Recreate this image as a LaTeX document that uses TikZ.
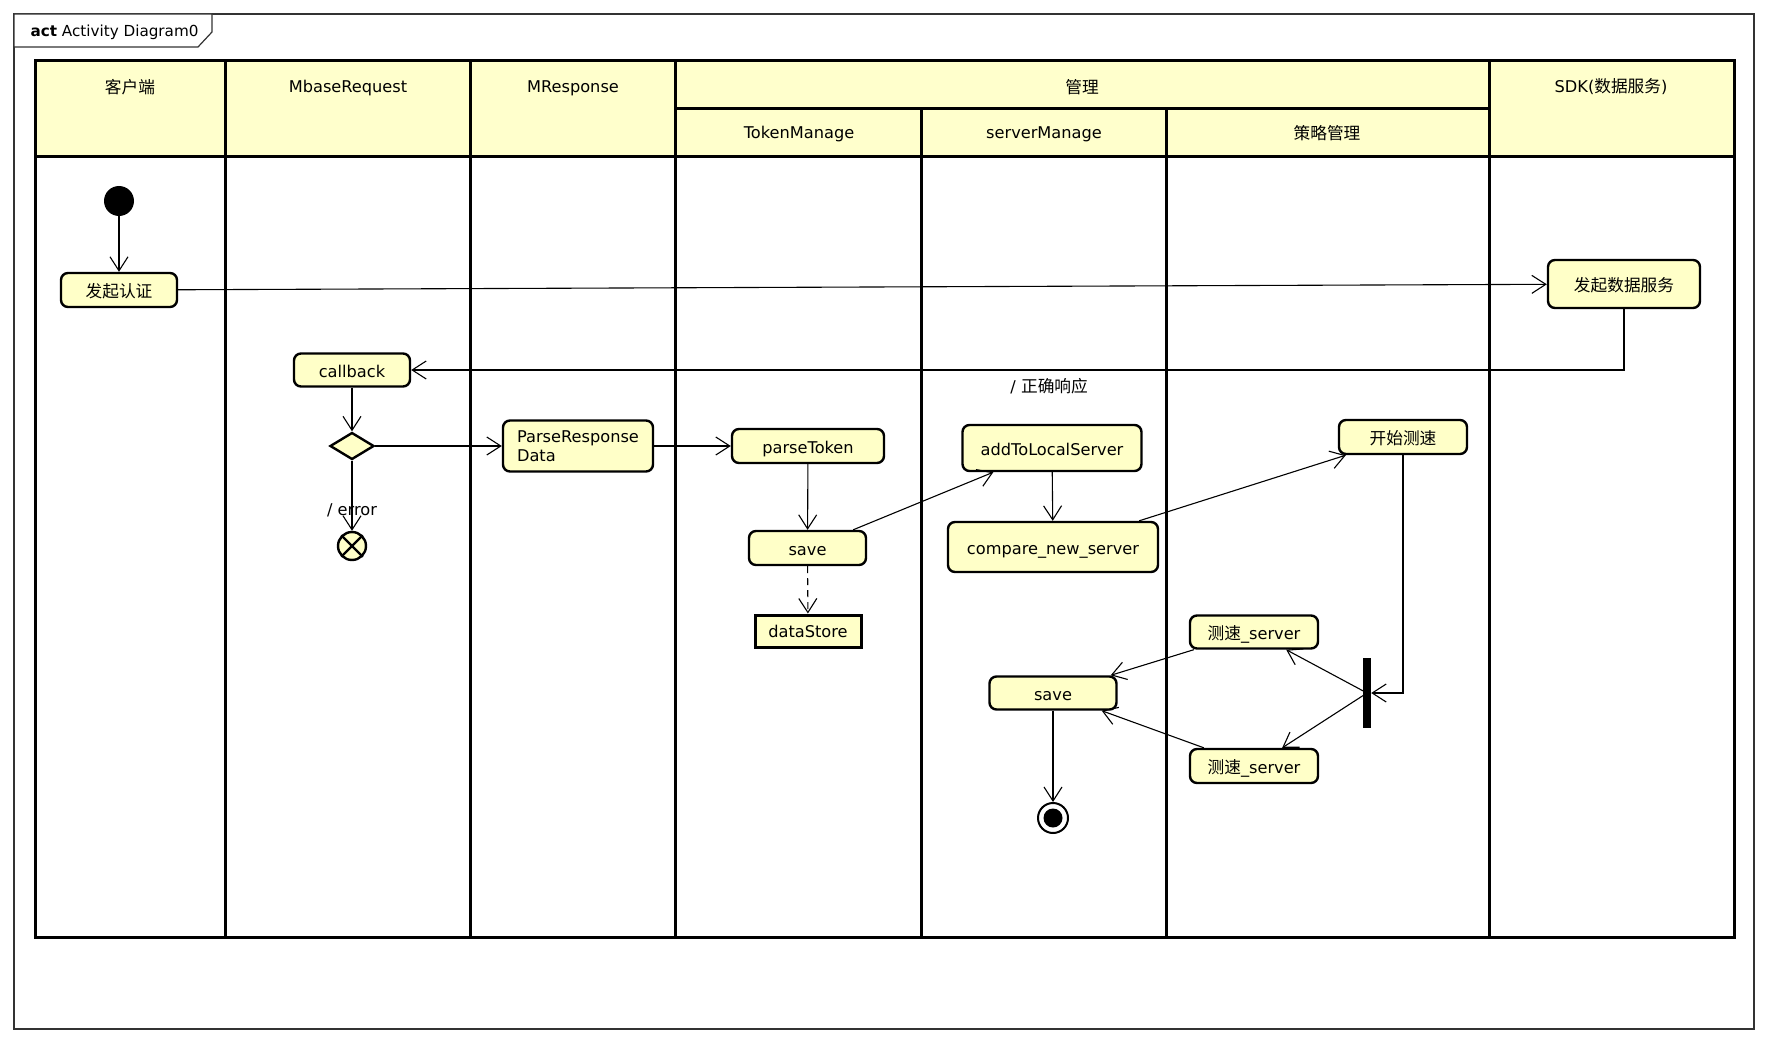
\documentclass[tikz,border=0pt]{standalone}
\usepackage{fontspec}
\setmainfont{DejaVu Sans}
\newfontfamily\cjk[Scale=1.03]{Noto Sans CJK SC}
\usetikzlibrary{arrows.meta,shapes.geometric}
\definecolor{laneyellow}{HTML}{FFFFCC}
\definecolor{actyellow}{HTML}{FFFFC8}
\tikzset{
	lane/.style={line width=3pt},
	lanetitle/.style={font=\fontsize{16.2}{19}\selectfont},
	actionbox/.style={draw,line width=2.4pt,rounded corners=7pt,fill=actyellow,inner sep=0pt,font=\fontsize{16.2}{19.5}\selectfont},
	action/.style={actionbox,text height=16pt,text depth=2pt},
	flow/.style={line width=1.1pt,-{Straight Barb[length=14pt,width=18pt]}}
}
\begin{document}
\begin{tikzpicture}[x=1pt,y=-1pt]
	\useasboundingbox (0,0) rectangle (1769,1043);
	% frame and its tab
	\draw[line width=1.2pt,black!80] (14,14) rectangle (1754,1029);
	\draw[line width=1.2pt,black!80,fill=white] (14,14) -- (212,14) -- (212,32) -- (198,47) -- (14,47) -- cycle;
	\node (title) at (27,32) [anchor=west,font=\fontsize{15.2}{18}\selectfont]{\textbf{act} Activity Diagram0};
	% swimlanes
	\fill[laneyellow] (35,61) rectangle (1734,157);
	\draw[lane] (35,61) rectangle (1734,937);
	\draw[lane] (35,157) -- (1734,157);
	\draw[lane] (675.7,109) -- (1489,109);
	\draw[lane] (225.6,61) -- (225.6,937);
	\draw[lane] (470,61) -- (470,937);
	\draw[lane] (675.7,61) -- (675.7,937);
	\draw[lane] (1489,61) -- (1489,937);
	\draw[lane] (921.6,109) -- (921.6,937);
	\draw[lane] (1166,109) -- (1166,937);
	\node (client) at (130,87) [lanetitle]{\cjk 客户端};
	\node (mbase) at (348,88) [lanetitle]{MbaseRequest};
	\node (mresp) at (573,88) [lanetitle]{MResponse};
	\node (manage) at (1082,87) [lanetitle]{\cjk 管理};
	\node (sdklane) at (1611,87) [lanetitle]{SDK({\cjk 数据服务})};
	\node (tokenlane) at (799,134) [lanetitle]{TokenManage};
	\node (serverlane) at (1044,134) [lanetitle]{serverManage};
	\node (policylane) at (1327,133) [lanetitle]{\cjk 策略管理};
	% activities
	\node (start) at (119,201) [circle,fill=black,minimum size=30pt,inner sep=0pt]{};
	\node (auth) at (119,290) [action,minimum width=116pt,minimum height=34pt]{\cjk 发起认证};
	\node (sdk) at (1624,284) [action,minimum width=152pt,minimum height=48pt]{\cjk 发起数据服务};
	\node (callback) at (352,370) [action,minimum width=116pt,minimum height=33pt]{callback};
	\node (dec) at (352,446) [diamond,draw,line width=2.4pt,fill=actyellow,minimum width=44pt,minimum height=27pt,inner sep=0pt]{};
	\node (errEnd) at (352,546) [circle,draw,line width=2.4pt,fill=actyellow,minimum size=28pt,inner sep=0pt]{};
	\node (parse) at (578,446) [actionbox,minimum width=150pt,minimum height=51pt,align=left]{ParseResponse\\Data};
	\node (token) at (808,446) [action,minimum width=152pt,minimum height=34pt]{parseToken};
	\node (saveT) at (807.5,548) [action,minimum width=117pt,minimum height=34pt]{save};
	\node (store) at (808,631) [draw,line width=3pt,fill=actyellow,minimum width=106pt,minimum height=32pt,inner sep=0pt,font=\fontsize{16.2}{19}\selectfont]{dataStore};
	\node (addLocal) at (1052,448) [action,minimum width=179pt,minimum height=46pt]{addToLocalServer};
	\node (compare) at (1053,547) [action,minimum width=210pt,minimum height=50pt]{compare\_new\_server};
	\node (speed) at (1403,437) [action,minimum width=128pt,minimum height=34pt]{\cjk 开始测速};
	\node (fork) at (1367,693) [fill=black,minimum width=8pt,minimum height=70pt,inner sep=0pt]{};
	\node (srvA) at (1254,632) [action,minimum width=128pt,minimum height=33pt]{{\cjk 测速}\_server};
	\node (srvB) at (1254,766) [action,minimum width=128pt,minimum height=34pt]{{\cjk 测速}\_server};
	\node (saveS) at (1053,693) [action,minimum width=127pt,minimum height=33pt]{save};
	\node (final) at (1053,818) [circle,draw,line width=2pt,fill=white,minimum size=30pt,inner sep=0pt]{};
	\node (finalDot) at (1053,818) [circle,fill=black,minimum size=19pt,inner sep=0pt]{};
	\draw[line width=2.4pt] (errEnd.45) -- (errEnd.225) (errEnd.135) -- (errEnd.315);
	% flows
	\draw[flow] (start) -- (auth);
	\draw[flow] (auth) -- (sdk);
	\draw[flow] (sdk.south) |- (callback.east) node[pos=0.737,below=4pt,font=\fontsize{16.2}{19}\selectfont]{/ {\cjk 正确响应}};
	\draw[flow] (callback) -- (dec);
	\draw[flow] (dec.east) -- (parse.west);
	\draw[flow] (dec.south) -- (errEnd.north) node[pos=0.71,font=\fontsize{16.2}{19}\selectfont]{/ error};
	\draw[flow] (parse.east) -- (token.west);
	\draw[flow] (token) -- (saveT);
	\draw[flow,dash pattern=on 7pt off 5pt] (saveT) -- (store);
	\draw[flow] ([xshift=-14pt]saveT.north east) -- ([xshift=32pt]addLocal.south west);
	\draw[flow] (addLocal) -- (compare);
	\draw[flow] ([xshift=-20pt]compare.north east) -- ([xshift=8pt]speed.south west);
	\draw[flow] (speed.south) |- (fork.east);
	\draw[flow] (fork.center) -- ([xshift=-33pt]srvA.south east);
	\draw[flow] (fork.center) -- ([xshift=-37pt]srvB.north east);
	\draw[flow] ([xshift=5pt]srvA.south west) -- ([xshift=-7pt]saveS.north east);
	\draw[flow] ([xshift=15pt]srvB.north west) -- ([xshift=-16pt]saveS.south east);
	\draw[flow] (saveS) -- (final);
\end{tikzpicture}
\end{document}
